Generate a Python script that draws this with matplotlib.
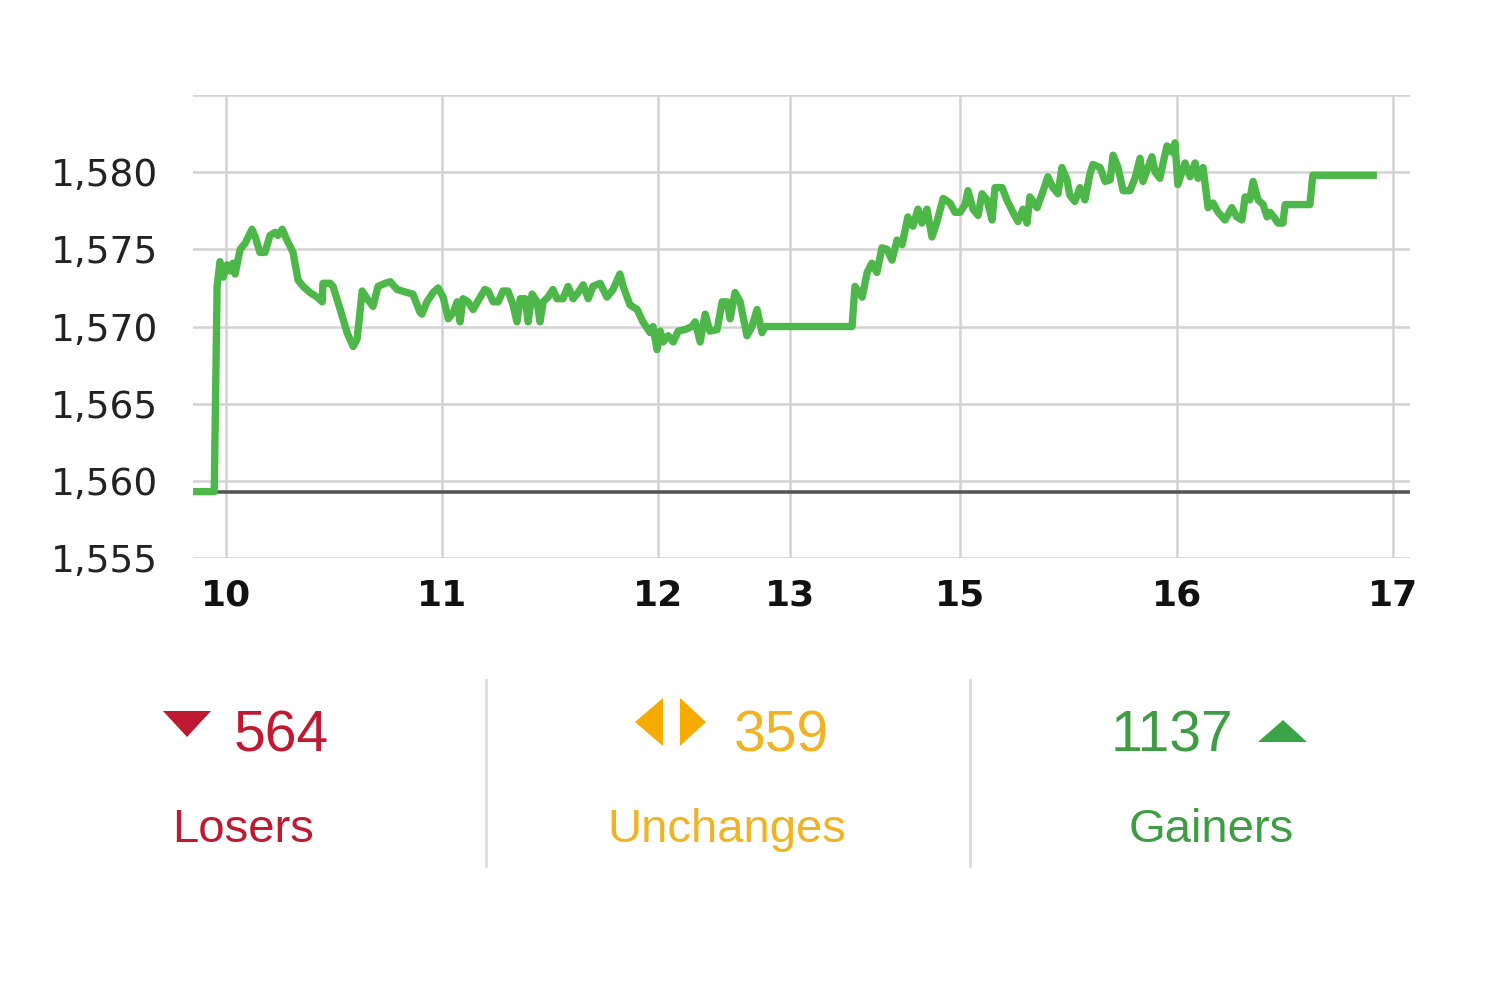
import matplotlib
matplotlib.use("Agg")
import matplotlib.pyplot as plt
from matplotlib.patches import Polygon

# ---------------- data ----------------
# x: minutes along the (compressed) session axis, 10:00 = 0
tick_pos = [0, 60, 120, 156.7, 203.9, 264.2, 324.2]
tick_labels = ["10", "11", "12", "13", "15", "16", "17"]
y_ticks = [1555, 1560, 1565, 1570, 1575, 1580, 1585]
y_tick_labels = ["1,555", "1,560", "1,565", "1,570", "1,575", "1,580", ""]
prev_close = 1559.3

times = [-9.2, -3.3, -2.5, -1.7, -0.8, 0.3, 1.1, 1.9, 2.5, 3.9, 5.3, 7.2, 8.1, 9.4, 10.8,
         12.2, 13.6, 14.4, 15.6, 16.9, 18.6, 20.0, 21.4, 23.3, 25.3, 26.7, 26.9, 28.9, 29.7,
         31.7, 33.6, 35.3, 36.4, 37.8, 39.2, 40.8, 42.2, 44.2, 45.6, 47.5, 50.3, 51.9, 53.9,
         54.4, 55.8, 57.5, 58.9, 60.3, 61.7, 63.1, 64.2, 65.0, 65.8, 67.2, 68.6, 70.6, 71.9,
         72.8, 74.2, 75.6, 76.9, 78.3, 79.7, 80.8, 81.7, 83.1, 83.9, 85.0, 86.4, 87.2, 88.1,
         89.4, 90.8, 91.9, 93.6, 95.0, 96.4, 97.8, 99.2, 100.6, 101.9, 103.9, 105.8, 107.5,
         109.4, 110.3, 112.2, 114.2,
         115.8, 117.8, 118.6, 119.7, 120.6, 121.4, 122.8, 124.2, 125.6, 127.5, 129.4, 130.3,
         131.7, 133.1, 134.4, 136.4, 137.8, 139.2, 140.0, 141.4, 142.8, 144.7, 146.1, 147.5,
         148.9, 149.7, 173.9,
         174.7, 176.7, 178.1, 179.4, 180.8, 182.2, 183.6, 185.0, 186.4, 187.8, 189.4, 190.8,
         192.2, 193.3, 194.7, 196.1, 197.5, 199.2, 201.1, 202.5, 203.9, 205.3, 206.1, 207.5,
         208.9, 210.0, 211.4, 212.8, 213.6, 215.6, 216.9, 218.6, 220.0, 221.4, 222.5, 223.3,
         225.3, 226.7, 228.3, 229.7, 231.1, 232.2, 233.6, 234.4,
         235.8, 237.2, 238.6, 240.0, 240.8, 242.8, 244.2, 245.6, 246.4, 247.8, 249.2, 251.1,
         252.5, 253.9, 254.7, 256.1, 257.2, 258.1, 259.4, 260.3, 261.4, 262.8, 263.6, 264.4,
         266.4, 267.8, 269.2, 270.0, 271.4, 272.8, 274.2, 275.6, 277.5, 279.4, 280.8, 282.2,
         283.1, 284.4, 285.3, 286.7, 288.1, 289.2, 290.0, 291.4, 292.2, 293.6, 294.2, 301.1,
         301.9, 319.7]

values = [1559.3, 1559.3, 1572.6, 1574.2, 1573.2, 1574.0, 1573.6, 1574.1, 1573.4, 1575.0,
          1575.4, 1576.3, 1575.8, 1574.8, 1574.8, 1575.9, 1576.1, 1575.9, 1576.3, 1575.6,
          1574.8, 1573.0, 1572.6, 1572.2, 1571.9, 1571.6, 1572.8, 1572.8, 1572.6, 1571.1,
          1569.6, 1568.7, 1569.2, 1572.3, 1571.8, 1571.3, 1572.6, 1572.8, 1572.9, 1572.4,
          1572.2, 1572.1, 1570.9,
          1570.8, 1571.6, 1572.2, 1572.5, 1571.9, 1570.5, 1570.9, 1571.6, 1570.3, 1571.8,
          1571.6, 1571.1, 1571.9, 1572.4, 1572.3, 1571.6, 1571.6, 1572.3, 1572.3, 1571.4,
          1570.3, 1571.8, 1571.8, 1570.3, 1572.1, 1571.6, 1570.3, 1571.6, 1571.9, 1572.4,
          1571.8, 1571.8, 1572.6, 1571.8, 1572.2, 1572.7, 1571.8, 1572.6, 1572.8, 1571.9,
          1572.4, 1573.4, 1572.6, 1571.4, 1571.1,
          1570.3, 1569.6, 1570.0, 1568.5, 1569.7, 1569.0, 1569.4, 1569.0, 1569.7, 1569.8,
          1570.0, 1570.3, 1569.0, 1570.8, 1569.7, 1569.8, 1571.6, 1571.6, 1570.5, 1572.2,
          1571.6, 1569.4, 1570.0, 1571.1, 1569.6, 1570.0, 1570.0,
          1572.6, 1571.9, 1573.5, 1574.1, 1573.5, 1575.1, 1575.0, 1574.3, 1575.6, 1575.3,
          1577.1, 1576.5, 1577.6, 1576.7, 1577.6, 1575.8, 1576.8, 1578.3, 1578.0, 1577.4,
          1577.4, 1577.9, 1578.8, 1577.6, 1577.2, 1578.6, 1578.2, 1576.9, 1579.0, 1579.0,
          1578.2, 1577.4, 1576.8, 1577.6, 1576.7, 1578.4, 1577.7, 1578.6, 1579.7, 1579.0,
          1578.6, 1580.3, 1579.5, 1578.5,
          1578.1, 1579.0, 1578.2, 1579.9, 1580.5, 1580.3, 1579.4, 1579.5, 1581.1, 1580.3,
          1578.8, 1578.8, 1579.6, 1580.9, 1579.4, 1580.3, 1581.0, 1580.0, 1579.6, 1580.6,
          1581.7, 1581.3, 1581.9, 1579.2, 1580.6, 1579.7, 1580.6, 1579.6, 1580.3, 1577.7,
          1578.0, 1577.4, 1576.9, 1577.7, 1577.1, 1576.9, 1578.4, 1578.2, 1579.4, 1578.2,
          1577.9, 1577.1, 1577.4, 1577.0, 1576.7, 1576.7, 1577.9, 1577.9, 1579.8, 1579.8]

stat_labels = ["Losers", "Unchanges", "Gainers"]
stat_counts = [564, 359, 1137]

# ---------------- styling ----------------
GREEN_LINE = "#4db849"
RED = "#c01a32"
ORANGE_TXT = "#f0b323"
ORANGE_ICON = "#f5ab00"
GREEN_TXT = "#3e9d42"
GREEN_ICON = "#3aa547"
GRID = "#d3d3d3"

W, H = 1500, 999
fig = plt.figure(figsize=(15, 9.99), dpi=100)
fig.patch.set_facecolor("white")

ax = fig.add_axes([193 / W, (H - 558) / H, (1410 - 193) / W, (558 - 95) / H])
ax.set_xlim(-9.2, 328.9)
ax.set_ylim(1555, 1585)

ax.set_xticks(tick_pos)
ax.set_xticklabels(tick_labels, fontsize=26, fontweight="bold", color="#111111",
                   family="DejaVu Sans")
ax.set_yticks(y_ticks)
ax.set_yticklabels(y_tick_labels, fontsize=27, color="#222222", family="DejaVu Sans")
ax.tick_params(axis="both", length=0)
ax.tick_params(axis="y", pad=25)
ax.tick_params(axis="x", pad=15)
for s in ax.spines.values():
    s.set_visible(False)
ax.grid(True, color=GRID, lw=1.8)
ax.set_axisbelow(True)

ax.axhline(prev_close, color="#555555", lw=2.6, zorder=2)
ax.plot(times, values, color=GREEN_LINE, lw=5.3, zorder=3,
        solid_joinstyle="round", solid_capstyle="butt")

# ---------------- bottom stats panel ----------------
pan = fig.add_axes([0, 0, 1, 1], zorder=-1)
pan.set_xlim(0, W)
pan.set_ylim(H, 0)
pan.axis("off")

for xs in (486, 970):
    pan.plot([xs, xs], [680, 866], color="#dcdcdc", lw=2)

# icons
pan.add_patch(Polygon([(163, 711), (211, 711), (187, 737)], closed=True, color=RED, lw=0))
pan.add_patch(Polygon([(663, 698), (663, 746), (635, 722)], closed=True, color=ORANGE_ICON, lw=0))
pan.add_patch(Polygon([(680, 698), (680, 746), (706, 722)], closed=True, color=ORANGE_ICON, lw=0))
pan.add_patch(Polygon([(1258, 742), (1307, 742), (1283, 720)], closed=True, color=GREEN_ICON, lw=0))

num_font = dict(fontsize=41, family="Liberation Sans")
lab_font = dict(fontsize=34, family="Liberation Sans")

pan.text(234, 752, str(stat_counts[0]), color=RED, ha="left", va="baseline", **num_font)
pan.text(734, 752, str(stat_counts[1]), color=ORANGE_TXT, ha="left", va="baseline", **num_font)
pan.text(1233, 752, str(stat_counts[2]), color=GREEN_TXT, ha="right", va="baseline", **num_font)

pan.text(243, 842, stat_labels[0], color=RED, ha="center", va="baseline", **lab_font)
pan.text(727, 842, stat_labels[1], color=ORANGE_TXT, ha="center", va="baseline", **lab_font)
pan.text(1211, 842, stat_labels[2], color=GREEN_TXT, ha="center", va="baseline", **lab_font)

fig.savefig("out.png", dpi=100, facecolor="white")
